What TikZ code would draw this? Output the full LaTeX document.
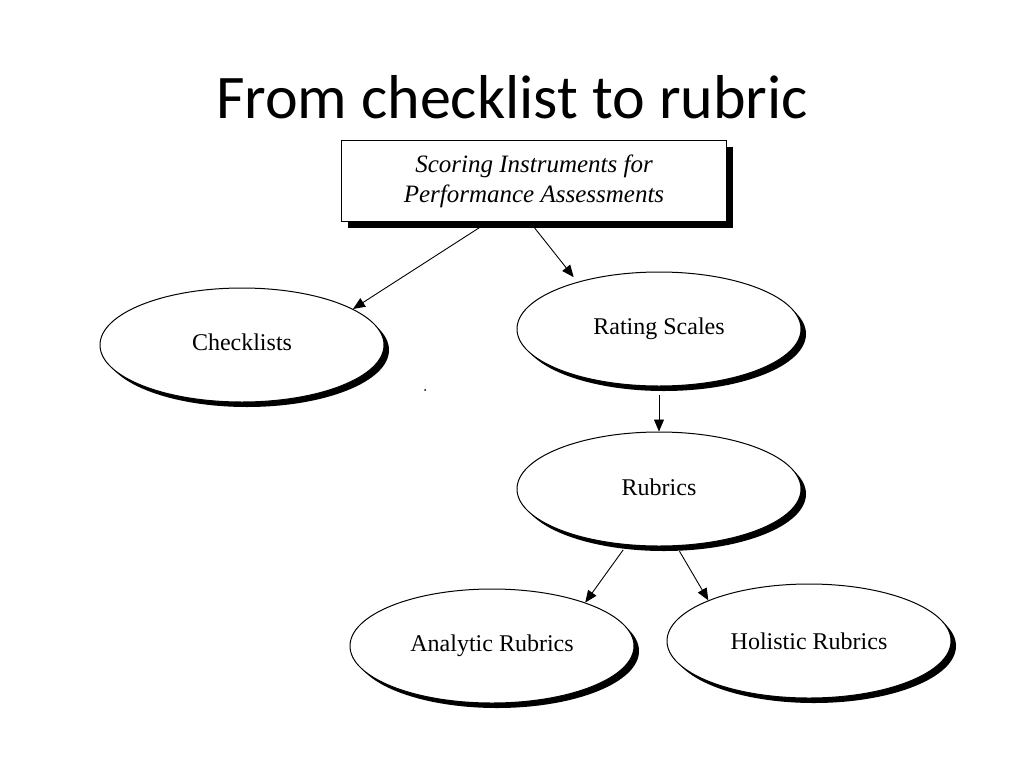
\documentclass[tikz,border=0pt]{standalone}
\usepackage{fontspec}
\setmainfont{Liberation Serif}
\newfontfamily\titlefont{Carlito}
\usetikzlibrary{shapes.geometric,shadows,arrows.meta}
\tikzset{
  oval/.style={ellipse, draw=black, line width=1pt, fill=white,
    minimum width=284pt, minimum height=114pt, inner sep=0pt,
    font=\fontsize{24}{28}\selectfont,
    drop shadow={shadow xshift=5pt, shadow yshift=-5pt, fill=black, opacity=1}},
  topbox/.style={rectangle, draw=black, line width=1.2pt, fill=white,
    minimum width=385pt, minimum height=81pt, inner sep=0pt, align=center,
    font=\fontsize{25}{30}\selectfont\itshape,
    drop shadow={shadow xshift=6pt, shadow yshift=-6pt, fill=black, opacity=1}},
  conn/.style={line width=0.9pt, -{Triangle[length=12pt,width=10pt]}}
}
\begin{document}
\begin{tikzpicture}[x=1pt,y=-1pt]
\useasboundingbox (0,0) rectangle (1024,768);
\node[font=\titlefont\fontsize{62}{70}\selectfont] (title) at (512,97) {From checklist to rubric};
\node[topbox] (box) at (534,181) {Scoring Instruments for\\Performance Assessments};
\node[oval] (check) at (242,345) {\raisebox{5pt}{Checklists}};
\node[oval] (rate) at (659,329) {\raisebox{5pt}{Rating Scales}};
\node[oval] (rub) at (659,489) {\raisebox{4pt}{Rubrics}};
\node[oval] (ana) at (492,646) {Analytic Rubrics};
\node[oval] (hol) at (809,641) {Holistic Rubrics};
\fill (425,390) circle (1);
\draw[conn] ([xshift=-46pt]box.south) -- (check.18);
\draw[conn, shorten >=6pt] ([xshift=-4pt]box.south) -- (rate.150);
\draw[conn, shorten <=8pt] (rate.south) -- (rub.north);
\draw[conn, shorten <=6pt] (rub.240) -- (ana.25);
\draw[conn, shorten <=6pt] (rub.287) -- (hol.158);
\end{tikzpicture}
\end{document}
